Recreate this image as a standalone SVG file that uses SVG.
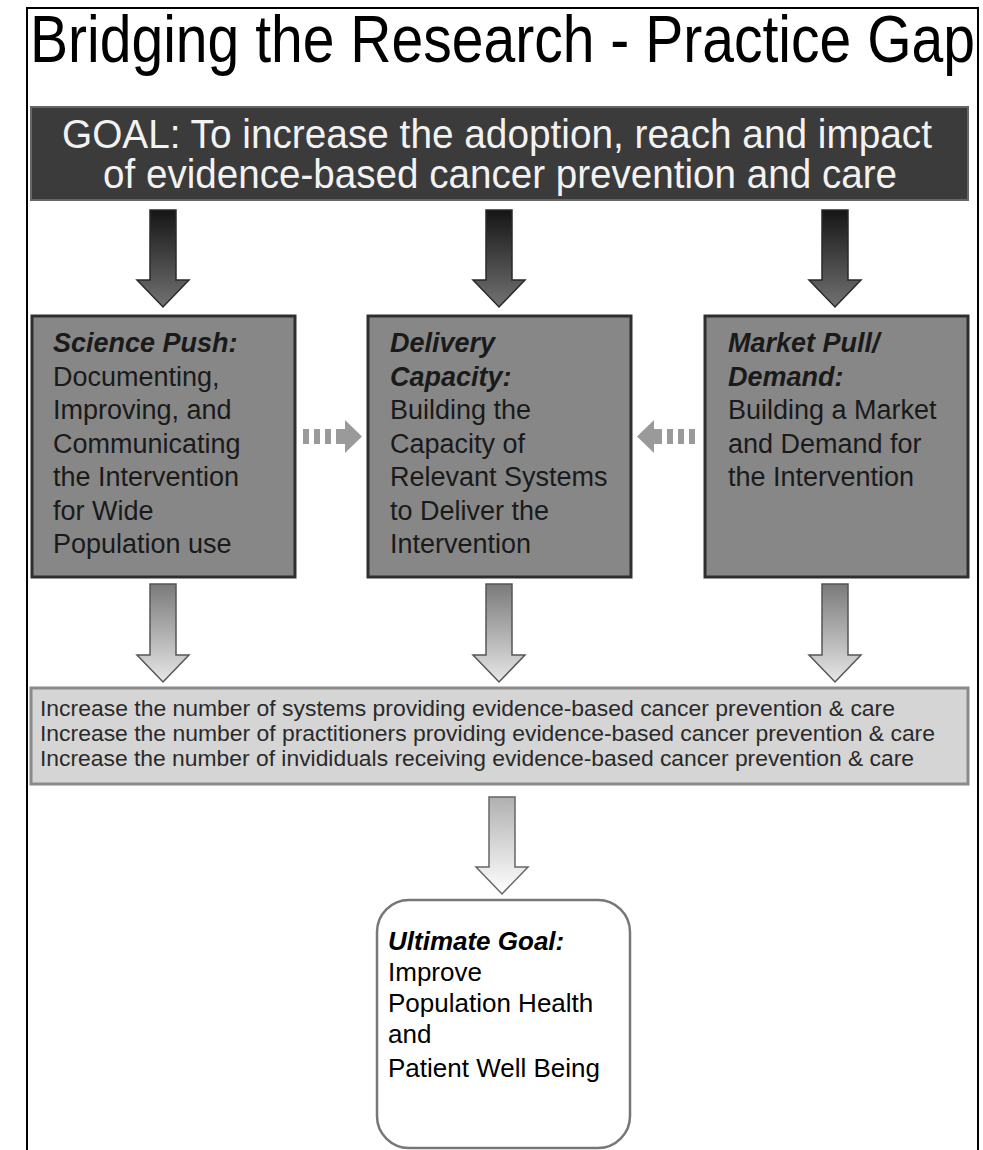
<svg xmlns="http://www.w3.org/2000/svg" width="983" height="1150" viewBox="0 0 983 1150">
<defs>
<linearGradient id="gDark" x1="0" y1="0" x2="0" y2="1"><stop offset="0" stop-color="#151515"/><stop offset="1" stop-color="#727272"/></linearGradient>
<linearGradient id="gMid" x1="0" y1="0" x2="0" y2="1"><stop offset="0" stop-color="#7a7a7a"/><stop offset="1" stop-color="#e6e6e6"/></linearGradient>
<linearGradient id="gLight" x1="0" y1="0" x2="0" y2="1"><stop offset="0" stop-color="#b0b0b0"/><stop offset="1" stop-color="#ffffff"/></linearGradient>
<style>
.t{font-family:"Liberation Sans",Arial,sans-serif}
.title{font-size:66px;fill:#000}
.goal{font-size:40px;fill:#f2f2f2}
.bx{fill:#878787;stroke:#2e2e2e;stroke-width:3}
.bt{font-size:27px;fill:#1a1a1a}
.bi{font-weight:bold;font-style:italic}
.ot{font-size:22px;fill:#2a2a2a}
.ut{font-size:26px;fill:#000}
.dash{fill:#9a9a9a}
</style>
</defs>
<path d="M27,1150 V8 H978 V1150" fill="none" stroke="#000" stroke-width="2"/>
<g id="title"><text class="t title" x="30" y="62" textLength="945" lengthAdjust="spacingAndGlyphs">Bridging the Research - Practice Gap</text></g>
<g id="goal">
<rect x="31" y="107" width="937" height="93" fill="#3b3b3b" stroke="#666" stroke-width="2"/>
<text class="t goal" x="62" y="148" textLength="870" lengthAdjust="spacingAndGlyphs">GOAL: To increase the adoption, reach and impact</text>
<text class="t goal" x="103" y="188" textLength="794" lengthAdjust="spacingAndGlyphs">of evidence-based cancer prevention and care</text>
</g>
<g id="science-push">
<rect class="bx" x="32" y="316" width="263" height="261"/>
<text class="t bt" x="53"><tspan class="bi" x="53" y="352">Science Push:</tspan><tspan x="53" y="386">Documenting,</tspan><tspan x="53" y="419">Improving, and</tspan><tspan x="53" y="453">Communicating</tspan><tspan x="53" y="486">the Intervention</tspan><tspan x="53" y="520">for Wide</tspan><tspan x="53" y="553">Population use</tspan></text>
</g>
<g id="delivery-capacity">
<rect class="bx" x="368" y="316" width="263" height="261"/>
<text class="t bt"><tspan class="bi" x="390" y="352">Delivery</tspan><tspan class="bi" x="390" y="386">Capacity:</tspan><tspan x="390" y="419">Building the</tspan><tspan x="390" y="453">Capacity of</tspan><tspan x="390" y="486">Relevant Systems</tspan><tspan x="390" y="520">to Deliver the</tspan><tspan x="390" y="553">Intervention</tspan></text>
</g>
<g id="market-pull">
<rect class="bx" x="705" y="316" width="263" height="261"/>
<text class="t bt"><tspan class="bi" x="728" y="352">Market Pull/</tspan><tspan class="bi" x="728" y="386">Demand:</tspan><tspan x="728" y="419">Building a Market</tspan><tspan x="728" y="453">and Demand for</tspan><tspan x="728" y="486">the Intervention</tspan></text>
</g>
<g id="outcomes">
<rect x="31" y="688" width="937" height="96" fill="#d5d5d5" stroke="#8a8a8a" stroke-width="3"/>
<text class="t ot" x="40" y="716" textLength="855" lengthAdjust="spacingAndGlyphs">Increase the number of systems providing evidence-based cancer prevention &amp; care</text>
<text class="t ot" x="40" y="741" textLength="895" lengthAdjust="spacingAndGlyphs">Increase the number of practitioners providing evidence-based cancer prevention &amp; care</text>
<text class="t ot" x="40" y="766" textLength="874" lengthAdjust="spacingAndGlyphs">Increase the number of invididuals receiving evidence-based cancer prevention &amp; care</text>
</g>
<g id="ultimate-goal">
<rect x="377" y="900" width="253" height="248" rx="32" fill="#fff" stroke="#777" stroke-width="2.5"/>
<text class="t ut"><tspan class="bi" x="388" y="950">Ultimate Goal:</tspan><tspan x="388" y="981">Improve</tspan><tspan x="388" y="1012">Population Health</tspan><tspan x="388" y="1043">and</tspan><tspan x="388" y="1077">Patient Well Being</tspan></text>
</g>
<g id="connectors">
<g fill="url(#gDark)" stroke="#2a2a2a" stroke-width="1.5">
<path d="M150,210 H176 V280 H189 L163,307 L137,280 H150 Z"/>
<path d="M486,210 H512 V280 H525 L499,307 L473,280 H486 Z"/>
<path d="M822,210 H848 V280 H861 L835,307 L809,280 H822 Z"/>
</g>
<g fill="url(#gMid)" stroke="#555" stroke-width="1.5">
<path d="M150,584 H176 V655 H189 L163,682 L137,655 H150 Z"/>
<path d="M486,584 H512 V655 H525 L499,682 L473,655 H486 Z"/>
<path d="M822,584 H848 V655 H861 L835,682 L809,655 H822 Z"/>
</g>
<path d="M489,797 H515 V867 H528 L502,894 L476,867 H489 Z" fill="url(#gLight)" stroke="#666" stroke-width="1.5"/>
<g class="dash">
<rect x="303" y="429" width="6" height="15"/><rect x="314" y="429" width="6" height="15"/><rect x="325" y="429" width="6" height="15"/>
<path d="M336,429 H345 V420 L362,436.5 L345,453 V444 H336 Z"/>
<rect x="689" y="429" width="6" height="15"/><rect x="678" y="429" width="6" height="15"/><rect x="667" y="429" width="6" height="15"/>
<path d="M662,429 H654 V420 L637,436.5 L654,453 V444 H662 Z"/>
</g>
</g>
</svg>
